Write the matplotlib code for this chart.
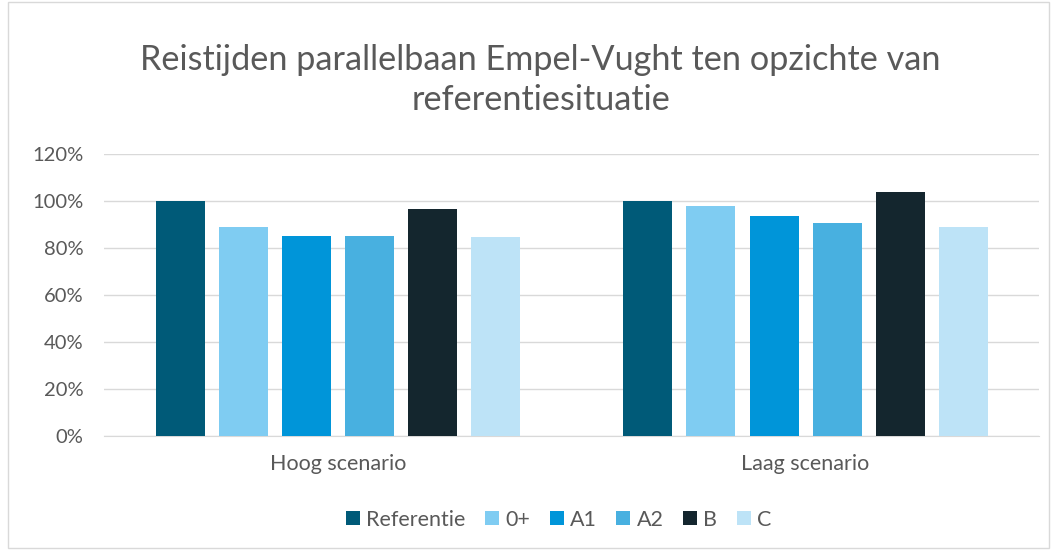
import numpy as np
import matplotlib.pyplot as plt
from matplotlib.patches import Rectangle
from matplotlib.ticker import PercentFormatter

plt.rcParams['font.family'] = ['Lato', 'DejaVu Sans']

# Data
categories = ["Hoog scenario", "Laag scenario"]
series = ["Referentie", "0+", "A1", "A2", "B", "C"]
values = {
    "Referentie": [1.00, 1.00],
    "0+": [0.89, 0.98],
    "A1": [0.85, 0.935],
    "A2": [0.85, 0.908],
    "B": [0.966, 1.037],
    "C": [0.848, 0.89],
}
colors = ["#005A78", "#7FCCF2", "#0095D9", "#48B0E0", "#14262E", "#BDE3F7"]

fig = plt.figure(figsize=(10.6, 5.56), dpi=100)
ax = fig.add_axes([0.0985, 0.2158, 0.882, 0.507])

x = np.arange(len(categories))
pitch = 0.135
width = 0.105
for i, (name, col) in enumerate(zip(series, colors)):
    offs = (i - (len(series) - 1) / 2) * pitch
    ax.bar(x + offs, values[name], width, color=col, label=name, zorder=3)

ax.set_xlim(-0.5, 1.5)
ax.set_ylim(0, 1.2)
ax.set_yticks(np.arange(0, 1.21, 0.2))
ax.yaxis.set_major_formatter(PercentFormatter(1.0, decimals=0))
ax.set_xticks(x)
ax.set_xticklabels(categories)
ax.grid(axis="y", color="#D9D9D9", linewidth=1, zorder=0)
for s in ["top", "right", "left"]:
    ax.spines[s].set_visible(False)
ax.spines["bottom"].set_color("#D9D9D9")
ax.tick_params(axis="x", length=0, labelsize=15.5, colors="#595959", pad=13)
ax.tick_params(axis="y", length=0, labelsize=14.5, colors="#595959", pad=15)

fig.text(0.51, 0.856, "Reistijden parallelbaan Empel-Vught ten opzichte van\nreferentiesituatie",
         ha="center", va="center", fontsize=24.7, color="#595959", linespacing=1.3)

leg = fig.legend(loc="center", bbox_to_anchor=(0.527, 0.065), ncol=6, frameon=False,
                 fontsize=15.5, handlelength=0.65, handleheight=0.65, handletextpad=0.3,
                 columnspacing=0.9)
for t in leg.get_texts():
    t.set_color("#595959")

fig.patches.append(Rectangle((0.008, 0.014), 0.982, 0.982, transform=fig.transFigure,
                             fill=False, edgecolor="#D9D9D9", linewidth=1))

fig.savefig("out.png", dpi=100)
